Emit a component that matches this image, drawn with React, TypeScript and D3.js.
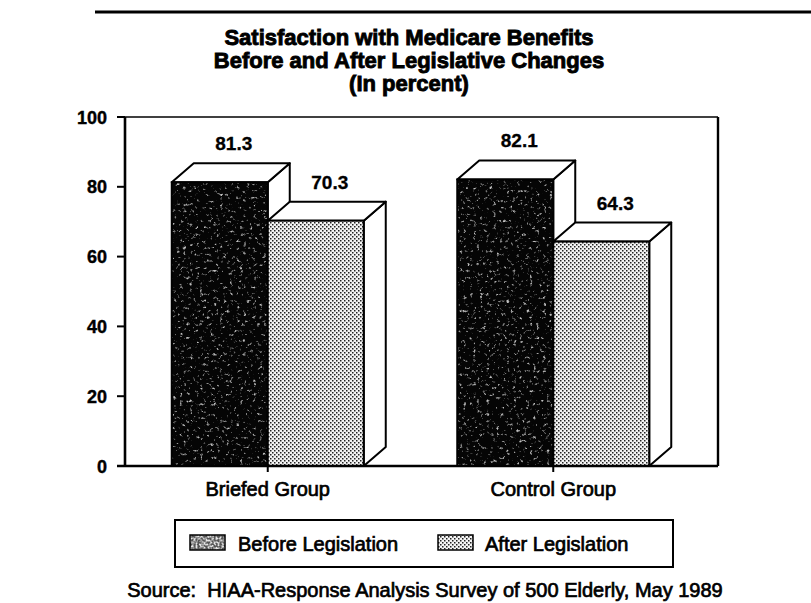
import React from "react";
import * as d3 from "d3";

// Survey results: share of elderly respondents satisfied with Medicare benefits
const groups = ["Briefed Group", "Control Group"];
const seriesNames = ["Before Legislation", "After Legislation"];
const beforeValues = [81.3, 82.1];
const afterValues = [70.3, 64.3];
const yTicks = [0, 20, 40, 60, 80, 100];
const titleLines = [
  "Satisfaction with Medicare Benefits",
  "Before and After Legislative Changes",
  "(In percent)",
];
const sourceNote = "Source:  HIAA-Response Analysis Survey of 500 Elderly, May 1989";

const W = 811;
const H = 603;
const plot = { left: 125, right: 718, top: 117, bottom: 466 };
const depthX = 22;
const depthY = -19;
const barW = 96;
const font = "'Liberation Sans', Arial, Helvetica, sans-serif";

export default function App() {
  const xGroup = d3
    .scaleBand<string>()
    .domain(groups)
    .range([plot.left, plot.right - depthX])
    .padding(0);
  const xSeries = d3.scaleBand<string>().domain(seriesNames).range([-barW, barW]);
  const y = d3.scaleLinear().domain([0, 100]).range([plot.bottom, plot.top]);

  const valuesBySeries = [beforeValues, afterValues];
  const fills = ["before", "after"];

  const bars = groups.flatMap((g, gi) =>
    seriesNames.map((s, si) => {
      const cx = (xGroup(g) ?? 0) + xGroup.bandwidth() / 2;
      const x0 = cx + (xSeries(s) ?? 0);
      const x1 = x0 + xSeries.bandwidth();
      const v = valuesBySeries[si][gi];
      return { key: `${g}-${s}`, x0, x1, yTop: y(v), y0: y(0), v, kind: fills[si] };
    })
  );

  const pts = (arr: [number, number][]) => arr.map((p) => p.join(",")).join(" ");

  return (
    <div style={{ position: "fixed", left: 0, top: 0 }}>
      <svg width={W} height={H} viewBox={`0 0 ${W} ${H}`} style={{ display: "block", background: "#fff" }}>
        <defs>
          {/* sparse light flecks over the dark fill */}
          <filter id="speckle" x="0" y="0" width="1" height="1" colorInterpolationFilters="sRGB">
            <feTurbulence type="fractalNoise" baseFrequency="0.3" numOctaves="3" seed="11" result="noise" />
            <feColorMatrix
              in="noise"
              type="matrix"
              values="0 0 0 0 0.75  0 0 0 0 0.75  0 0 0 0 0.75  4.5 0 0 0 -2.75"
              result="specks"
            />
            <feComposite in="specks" in2="SourceGraphic" operator="in" result="clipped" />
            <feMerge>
              <feMergeNode in="SourceGraphic" />
              <feMergeNode in="clipped" />
            </feMerge>
          </filter>
          <filter id="speckleLight" x="0" y="0" width="1" height="1" colorInterpolationFilters="sRGB">
            <feTurbulence type="fractalNoise" baseFrequency="0.5" numOctaves="2" seed="3" result="noise" />
            <feColorMatrix
              in="noise"
              type="matrix"
              values="0 0 0 0 0.9  0 0 0 0 0.9  0 0 0 0 0.9  3.4 0 0 0 -1.3"
              result="specks"
            />
            <feComposite in="specks" in2="SourceGraphic" operator="in" result="clipped" />
            <feMerge>
              <feMergeNode in="SourceGraphic" />
              <feMergeNode in="clipped" />
            </feMerge>
          </filter>
          <pattern id="dots" width="4" height="4" patternUnits="userSpaceOnUse">
            <rect width="4" height="4" fill="#f4f4f4" />
            <rect x="0" y="0" width="1.5" height="1.5" fill="#222" />
            <rect x="2" y="2" width="1.5" height="1.5" fill="#222" />
          </pattern>
        </defs>

        {/* page frame line */}
        <line x1={95} x2={W} y1={12} y2={12} stroke="#000" strokeWidth={3} />

        {/* title */}
        <g
          fontFamily={font}
          fontWeight="bold"
          fontSize={22}
          textAnchor="middle"
          fill="#000"
          stroke="#000"
          strokeWidth={0.9}
        >
          {titleLines.map((t, i) => (
            <text key={t} x={409} y={45 + i * 23}>
              {t}
            </text>
          ))}
        </g>

        {/* plot frame */}
        <line x1={plot.left} x2={plot.right} y1={plot.top} y2={plot.top} stroke="#000" strokeWidth={1.6} />
        <line x1={plot.right} x2={plot.right} y1={plot.top} y2={plot.bottom} stroke="#000" strokeWidth={2.4} />

        {/* bars */}
        {bars.map((b) => {
          const top: [number, number][] = [
            [b.x0, b.yTop],
            [b.x0 + depthX, b.yTop + depthY],
            [b.x1 + depthX, b.yTop + depthY],
            [b.x1, b.yTop],
          ];
          const side: [number, number][] = [
            [b.x1, b.yTop],
            [b.x1 + depthX, b.yTop + depthY],
            [b.x1 + depthX, b.y0 + depthY],
            [b.x1, b.y0],
          ];
          return (
            <g key={b.key}>
              <polygon points={pts(side)} fill="#fff" stroke="#000" strokeWidth={2} strokeLinejoin="round" />
              <polygon points={pts(top)} fill="#fff" stroke="#000" strokeWidth={2} strokeLinejoin="round" />
              <rect
                x={b.x0}
                y={b.yTop}
                width={b.x1 - b.x0}
                height={b.y0 - b.yTop}
                fill={b.kind === "before" ? "#050505" : "url(#dots)"}
                filter={b.kind === "before" ? "url(#speckle)" : undefined}
              />
              <rect
                x={b.x0}
                y={b.yTop}
                width={b.x1 - b.x0}
                height={b.y0 - b.yTop}
                fill="none"
                stroke="#000"
                strokeWidth={2}
              />
            </g>
          );
        })}

        {/* value labels */}
        <g
          fontFamily={font}
          fontWeight="bold"
          fontSize={19}
          textAnchor="middle"
          fill="#000"
          stroke="#000"
          strokeWidth={0.3}
        >
          {bars.map((b) => (
            <text key={b.key} x={(b.x0 + b.x1) / 2 + 14} y={b.yTop + depthY - 13}>
              {b.v.toFixed(1)}
            </text>
          ))}
        </g>

        {/* y axis */}
        <line x1={plot.left} x2={plot.left} y1={plot.top} y2={plot.bottom} stroke="#000" strokeWidth={2.6} />
        <g fontFamily={font} fontWeight="bold" fontSize={18} textAnchor="end" fill="#000">
          {yTicks.map((t) => (
            <g key={t}>
              <line x1={plot.left - 8} x2={plot.left} y1={y(t)} y2={y(t)} stroke="#000" strokeWidth={2} />
              <text x={107} y={y(t) + 6.5} stroke="#000" strokeWidth={0.4}>
                {t}
              </text>
            </g>
          ))}
        </g>

        {/* x axis */}
        <line x1={plot.left - 8} x2={plot.right} y1={plot.bottom} y2={plot.bottom} stroke="#000" strokeWidth={2.6} />
        <g fontFamily={font} fontSize={20} textAnchor="middle" fill="#000" stroke="#000" strokeWidth={0.7}>
          {groups.map((g) => {
            const cx = (xGroup(g) ?? 0) + xGroup.bandwidth() / 2;
            return (
              <g key={g}>
                <line x1={cx} x2={cx} y1={plot.bottom} y2={plot.bottom + 6} strokeWidth={2} />
                <text x={cx} y={496}>
                  {g}
                </text>
              </g>
            );
          })}
        </g>

        {/* legend */}
        <rect x={175} y={520} width={498} height={47} fill="#fff" stroke="#000" strokeWidth={2} />
        <rect x={190} y={535} width={35} height={15} fill="#555" filter="url(#speckleLight)" />
        <rect x={190} y={535} width={35} height={15} fill="none" stroke="#000" strokeWidth={1.5} />
        <rect x={438} y={535} width={35} height={15} fill="url(#dots)" stroke="#000" strokeWidth={1.5} />
        <g fontFamily={font} fontSize={20} fill="#000" stroke="#000" strokeWidth={0.7}>
          <text x={238} y={551}>
            {seriesNames[0]}
          </text>
          <text x={485} y={551}>
            {seriesNames[1]}
          </text>
        </g>

        {/* source note */}
        <text
          x={425}
          y={597}
          fontFamily={font}
          fontSize={20}
          textAnchor="middle"
          fill="#000"
          stroke="#000"
          strokeWidth={0.7}
          style={{ whiteSpace: "pre" }}
        >
          {sourceNote}
        </text>
      </svg>
    </div>
  );
}
